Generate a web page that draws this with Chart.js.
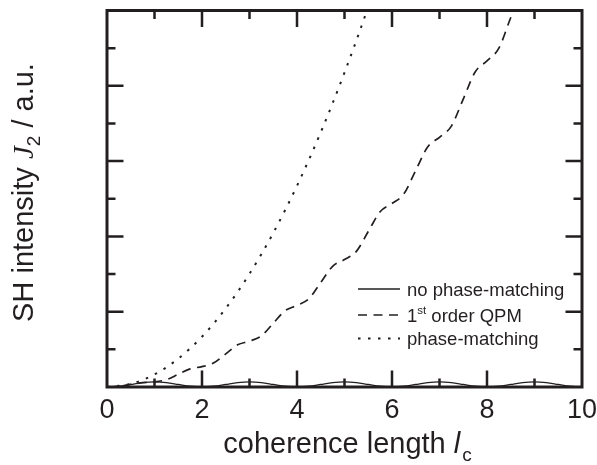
<!DOCTYPE html>
<html>
<head>
<meta charset="utf-8">
<script src="https://cdn.jsdelivr.net/npm/chart.js@4/dist/chart.umd.min.js"></script>
<style>
  html, body { margin: 0; padding: 0; background: #fff; }
  canvas { display: block; }
</style>
</head>
<body>
<canvas id="chart" width="597" height="465"></canvas>
<script>
// coherence length positions (units of l_c)
const lcFine = [0, 0.25, 0.5, 0.75, 1, 1.25, 1.5, 1.75, 2, 2.25, 2.5, 2.75, 3, 3.25, 3.5, 3.75,
    4, 4.25, 4.5, 4.75, 5, 5.25, 5.5, 5.75, 6, 6.25, 6.5, 6.75, 7, 7.25, 7.5, 7.75,
    8, 8.25, 8.5, 8.75, 9, 9.25, 9.5, 9.75, 10];
const lcPm = [0, 0.5, 1, 1.5, 2, 2.5, 3, 3.5, 4, 4.5, 5, 5.5, 6];

// SH intensity (a.u., axis 0..10)
const noPhaseMatching = [0, 0.02, 0.068, 0.116, 0.135, 0.116, 0.068, 0.02,
    0, 0.02, 0.068, 0.116, 0.135, 0.116, 0.068, 0.02,
    0, 0.02, 0.068, 0.116, 0.135, 0.116, 0.068, 0.02,
    0, 0.02, 0.068, 0.116, 0.135, 0.116, 0.068, 0.02,
    0, 0.02, 0.068, 0.116, 0.135, 0.116, 0.068, 0.02, 0];
const firstOrderQpm = [0, 0.02, 0.068, 0.116,
    0.135, 0.195, 0.338, 0.482,
    0.541, 0.641, 0.88, 1.119,
    1.218, 1.357, 1.692, 2.027,
    2.166, 2.344, 2.775, 3.206,
    3.384, 3.602, 4.129, 4.655,
    4.873, 5.131, 5.753, 6.375,
    6.633, 6.93, 7.648, 8.366,
    8.663, 9.0, 9.814, 10.61];
const phaseMatching = [0, 0.084, 0.334, 0.752, 1.336, 2.088, 3.006, 4.092, 5.344, 6.764, 8.35, 10.1, 12.02];

const xTickLabels = ['0', '2', '4', '6', '8', '10'];
const legendLabels = ['no phase-matching', '1st order QPM', 'phase-matching'];

const ink = '#231f20';
const sans = '"Liberation Sans", Arial, sans-serif';

function points(xs, ys) {
    return ys.map((y, i) => ({ x: xs[i], y: y }));
}

// frame, inward ticks, labels, titles and legend
const decorPlugin = {
    id: 'decor',
    afterDatasetsDraw(chart) {
        const ctx = chart.ctx;
        const a = chart.chartArea;
        const xs = chart.scales.x;
        const ys = chart.scales.y;
        ctx.save();
        ctx.strokeStyle = ink;
        ctx.fillStyle = ink;

        // frame
        ctx.lineWidth = 3;
        ctx.strokeRect(a.left, a.top, a.right - a.left, a.bottom - a.top);

        // ticks on all sides
        ctx.lineWidth = 2.5;
        ctx.beginPath();
        for (let v = 1; v < 10; v++) {
            const len = v % 2 === 0 ? 16.5 : 8.5;
            const px = xs.getPixelForValue(v);
            ctx.moveTo(px, a.bottom); ctx.lineTo(px, a.bottom - len);
            ctx.moveTo(px, a.top); ctx.lineTo(px, a.top + len);
            const py = ys.getPixelForValue(v);
            ctx.moveTo(a.left, py); ctx.lineTo(a.left + len, py);
            ctx.moveTo(a.right, py); ctx.lineTo(a.right - len, py);
        }
        ctx.stroke();

        // x tick labels
        ctx.font = '27px ' + sans;
        ctx.textAlign = 'center';
        ctx.textBaseline = 'alphabetic';
        xTickLabels.forEach(t => {
            ctx.fillText(t, xs.getPixelForValue(Number(t)), 417.5);
        });

        // x title: coherence length l_c
        ctx.textAlign = 'left';
        const mainX = 'coherence length ';
        ctx.font = '29px ' + sans;
        const w1 = ctx.measureText(mainX).width;
        ctx.font = 'italic 29px ' + sans;
        const w2 = ctx.measureText('l').width;
        ctx.font = '19px ' + sans;
        const w3 = ctx.measureText('c').width;
        let x0 = (a.left + a.right) / 2 + 3 - (w1 + w2 + w3 + 2) / 2;
        const base = 453;
        ctx.font = '29px ' + sans;
        ctx.fillText(mainX, x0, base);
        ctx.font = 'italic 29px ' + sans;
        ctx.fillText('l', x0 + w1, base);
        ctx.font = '19px ' + sans;
        ctx.fillText('c', x0 + w1 + w2 + 2, base + 8);

        // y title: SH intensity J_2 / a.u.
        ctx.save();
        ctx.translate(33, 192.5);
        ctx.rotate(-Math.PI / 2);
        const p1 = 'SH intensity ';
        const p4 = ' / a.u.';
        ctx.font = '29px ' + sans;
        const q1 = ctx.measureText(p1).width;
        const q4 = ctx.measureText(p4).width;
        ctx.font = 'italic 29px "Liberation Serif", serif';
        const q2 = ctx.measureText('J').width;
        ctx.font = '19px ' + sans;
        const q3 = ctx.measureText('2').width;
        let s = -(q1 + q2 + q3 + q4) / 2;
        ctx.font = '29px ' + sans;
        ctx.fillText(p1, s, 0);
        ctx.font = 'italic 29px "Liberation Serif", serif';
        ctx.fillText('J', s + q1, 0);
        ctx.font = '19px ' + sans;
        ctx.fillText('2', s + q1 + q2, 7);
        ctx.font = '29px ' + sans;
        ctx.fillText(p4, s + q1 + q2 + q3, 0);
        ctx.restore();

        // legend
        const rows = [289, 315, 338.5];
        chart.data.datasets.forEach((ds, i) => {
            const y = rows[i];
            ctx.save();
            ctx.lineWidth = ds.borderWidth;
            ctx.setLineDash(ds.borderDash || []);
            ctx.beginPath();
            ctx.moveTo(358, y);
            ctx.lineTo(400, y);
            ctx.stroke();
            ctx.restore();
            ctx.font = '18.5px ' + sans;
            const label = legendLabels[i];
            if (label.startsWith('1st')) {
                ctx.fillText('1', 407, y + 6.5);
                const w = ctx.measureText('1').width;
                ctx.font = '11.5px ' + sans;
                ctx.fillText('st', 407 + w, y - 1);
                const ws = ctx.measureText('st').width;
                ctx.font = '18.5px ' + sans;
                ctx.fillText(label.slice(3), 407 + w + ws, y + 6.5);
            } else {
                ctx.fillText(label, 407, y + 6.5);
            }
        });
        ctx.restore();
    }
};

new Chart(document.getElementById('chart').getContext('2d'), {
    type: 'line',
    data: {
        datasets: [
            {
                label: legendLabels[0],
                data: points(lcFine, noPhaseMatching),
                borderColor: ink,
                borderWidth: 1.3,
                cubicInterpolationMode: 'monotone'
            },
            {
                label: legendLabels[1],
                data: points(lcFine, firstOrderQpm),
                borderColor: ink,
                borderWidth: 1.7,
                borderDash: [9, 6.5],
                cubicInterpolationMode: 'monotone'
            },
            {
                label: legendLabels[2],
                data: points(lcPm, phaseMatching),
                borderColor: ink,
                borderWidth: 2,
                borderDash: [2.5, 7.5],
                cubicInterpolationMode: 'monotone'
            }
        ]
    },
    options: {
        responsive: false,
        animation: false,
        layout: { padding: { top: 10.5, right: 15, left: 0, bottom: 0 } },
        elements: { point: { radius: 0 } },
        plugins: {
            legend: { display: false },
            tooltip: { enabled: false }
        },
        scales: {
            x: {
                type: 'linear',
                min: 0,
                max: 10,
                grid: { display: false, drawTicks: false },
                border: { display: false },
                ticks: { display: false, stepSize: 1 },
                afterFit: s => { s.height = 78; }
            },
            y: {
                min: 0,
                max: 10,
                grid: { display: false, drawTicks: false },
                border: { display: false },
                ticks: { display: false, stepSize: 1 },
                afterFit: s => { s.width = 107; }
            }
        }
    },
    plugins: [decorPlugin]
});
</script>
</body>
</html>
